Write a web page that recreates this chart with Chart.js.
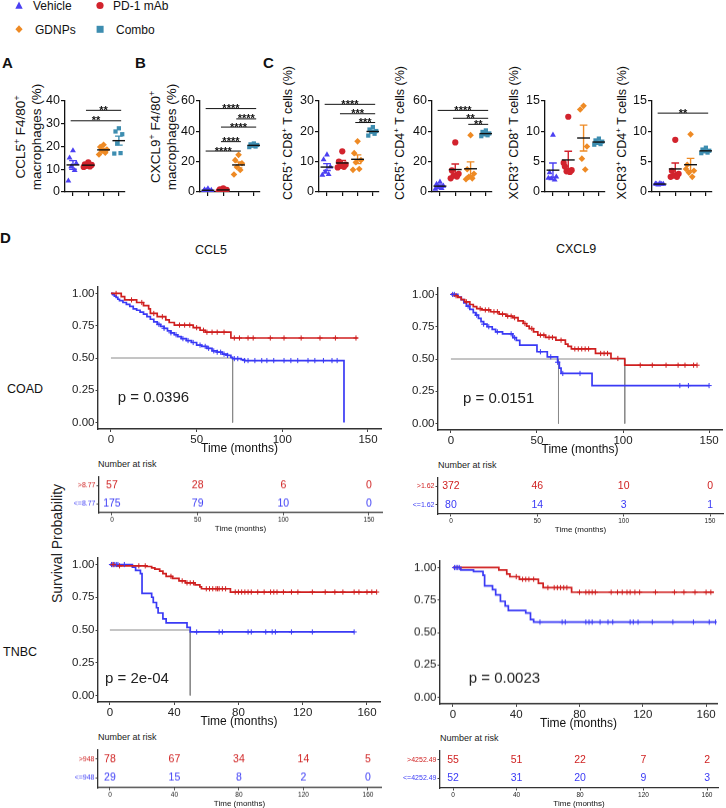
<!DOCTYPE html>
<html><head><meta charset="utf-8">
<script src="https://cdn.jsdelivr.net/npm/chart.js@4.4.1/dist/chart.umd.min.js"></script>
<style>
html,body{margin:0;padding:0;background:#fff}
body{width:726px;height:808px;position:relative;overflow:hidden;font-family:'Liberation Sans',Arial,sans-serif;color:#111}
canvas{position:absolute}
.t{position:absolute;white-space:nowrap}
.n{font-family:'Liberation Sans Narrow','Arial Narrow','Liberation Sans',sans-serif}
.r{position:absolute;white-space:nowrap;transform:rotate(-90deg);transform-origin:50% 50%}
.clip{position:absolute;overflow:hidden}
sup{font-size:65%;line-height:0}
</style></head><body>

<!-- legend -->
<svg style="position:absolute;left:0;top:0" width="200" height="40">
 <polygon points="19,1.5 15.3,8.8 22.7,8.8" fill="#4b40f2"/>
 <circle cx="100" cy="5.5" r="3.6" fill="#d2232d"/>
 <polygon points="19,25.3 22.6,29.2 19,33.1 15.4,29.2" fill="#ee8a24"/>
 <rect x="96.6" y="25.8" width="7" height="7" fill="#3d8db0"/>
</svg>
<div class="t" style="left:33px;top:-1px;font-size:12px;line-height:14px">Vehicle</div>
<div class="t" style="left:113px;top:-1.5px;font-size:12px;line-height:14px">PD-1 mAb</div>
<div class="t" style="left:35px;top:22.5px;font-size:12px;line-height:14px">GDNPs</div>
<div class="t" style="left:116px;top:22.5px;font-size:12px;line-height:14px">Combo</div>

<!-- panel letters -->
<div class="t" style="left:2px;top:54px;font-size:15px;font-weight:bold;line-height:18px">A</div>
<div class="t" style="left:135px;top:54px;font-size:15px;font-weight:bold;line-height:18px">B</div>
<div class="t" style="left:263px;top:54px;font-size:15px;font-weight:bold;line-height:18px">C</div>
<div class="t" style="left:0px;top:229px;font-size:15px;font-weight:bold;line-height:18px">D</div>

<!-- y titles A/B (two lines, centred) -->
<div class="r" style="left:-46px;top:121px;width:150px;height:32px;font-size:13.5px;line-height:16px;text-align:center">CCL5<sup>+</sup> F4/80<sup>+</sup><br>macrophages (%)</div>
<div class="r" style="left:89px;top:121px;width:150px;height:32px;font-size:13.5px;line-height:16px;text-align:center">CXCL9<sup>+</sup> F4/80<sup>+</sup><br>macrophages (%)</div>
<!-- y titles C (end anchored at top, clipped at bottom) -->
<div class="clip" style="left:270px;top:55px;width:450px;height:145px">
 <div class="r" style="left:-82px;top:103px;width:200px;height:16px;font-size:12.5px;line-height:16px;text-align:right">CCR5<sup>+</sup> CD8<sup>+</sup> T cells (%)</div>
 <div class="r" style="left:30px;top:103px;width:200px;height:16px;font-size:12.5px;line-height:16px;text-align:right">CCR5<sup>+</sup> CD4<sup>+</sup> T cells (%)</div>
 <div class="r" style="left:144px;top:103px;width:200px;height:16px;font-size:12.5px;line-height:16px;text-align:right">CXCR3<sup>+</sup> CD8<sup>+</sup> T cells (%)</div>
 <div class="r" style="left:252px;top:103px;width:200px;height:16px;font-size:12.5px;line-height:16px;text-align:right">CXCR3<sup>+</sup> CD4<sup>+</sup> T cells (%)</div>
</div>

<!-- panel D headings -->
<div class="t" style="left:195px;top:242px;font-size:12.5px;line-height:16px">CCL5</div>
<div class="t" style="left:556px;top:241px;font-size:12.5px;line-height:16px">CXCL9</div>
<div class="t" style="left:7px;top:381px;font-size:12.5px;line-height:16px">COAD</div>
<div class="t" style="left:3px;top:644px;font-size:12.5px;line-height:16px">TNBC</div>
<div class="r n" style="left:-43px;top:535px;width:200px;height:17px;font-size:14px;line-height:17px;text-align:center;color:#222">Survival Probability</div>
<div class="t n" style="left:98px;top:458px;font-size:9px;line-height:12px;color:#222">Number at risk</div>
<div class="t n" style="left:438px;top:459px;font-size:9px;line-height:12px;color:#222">Number at risk</div>
<div class="t n" style="left:98px;top:731px;font-size:9px;line-height:12px;color:#222">Number at risk</div>
<div class="t n" style="left:440px;top:732px;font-size:9px;line-height:12px;color:#222">Number at risk</div>

<script>
// ===================== DATA =====================
const groupNames = ['Vehicle', 'PD-1 mAb', 'GDNPs', 'Combo'];

// A: CCL5+ F4/80+ macrophages (%)  [Vehicle, PD-1 mAb, GDNPs, Combo]
const ccl5Mac = [[18.2, 15.0, 12.6, 11.2, 9.5, 4.9], [13.0, 12.2, 11.9, 11.5, 11.2, 11.0], [20.8, 19.8, 18.7, 18.0, 17.3, 16.5], [28.0, 26.6, 25.4, 21.4, 17.1, 16.9]];
const ccl5MacSig = [[1, 4, 31.3, '**'], [2, 4, 35.9, '**']];
// B: CXCL9+ F4/80+ macrophages (%)
const cxcl9Mac = [[2.2, 1.6, 1.2, 0.9, 0.6, 0.4], [2.4, 1.8, 1.4, 1.1, 0.9, 0.6], [24.5, 21.0, 19.0, 16.5, 14.5, 11.5], [32.0, 31.4, 31.0, 30.5, 30.0, 29.6]];
const cxcl9MacSig = [[1, 4, 55.0, '****'], [3, 4, 48.2, '****'], [2, 4, 42.8, '****'], [2, 3, 33.2, '****'], [1, 3, 27.0, '****']];
// C: CCR5+ CD8+ T cells (%)
const ccr5Cd8 = [[12.3, 10.7, 8.3, 6.6, 5.8, 5.6], [13.4, 10.0, 9.0, 8.6, 8.3, 8.1], [16.7, 12.8, 10.5, 9.8, 7.6, 7.3], [21.4, 20.6, 20.1, 19.8, 19.2, 18.6]];
const ccr5Cd8Sig = [[1, 4, 28.9, '****'], [2, 4, 25.8, '***'], [3, 4, 22.9, '***']];
// C: CCR5+ CD4+ T cells (%)
const ccr5Cd4 = [[6.6, 5.2, 4.0, 3.0, 2.4, 2.0], [32.7, 14.2, 12.0, 10.8, 10.2, 9.0], [37.5, 15.0, 12.0, 10.0, 9.0, 8.4], [40.6, 39.6, 38.6, 38.0, 37.4, 36.8]];
const ccr5Cd4Sig = [[1, 4, 53.8, '****'], [2, 4, 48.6, '**'], [3, 4, 44.6, '**']];
// C: CXCR3+ CD8+ T cells (%)
const cxcr3Cd8 = [[9.4, 3.2, 2.5, 2.2, 2.0, 2.3], [12.4, 4.2, 3.6, 3.4, 3.3, 4.8], [14.2, 13.6, 7.5, 5.5, 3.7], [8.8, 8.5, 8.3, 8.1, 7.9, 7.8]];
const cxcr3Cd8Sig = [];
// C: CXCR3+ CD4+ T cells (%)
const cxcr3Cd4 = [[1.4, 1.3, 1.3, 1.2, 1.3, 1.35], [8.6, 3.5, 3.0, 2.7, 2.5, 2.5], [9.5, 4.5, 3.5, 3.2, 2.5, 3.8], [7.3, 7.0, 6.8, 6.7, 6.5, 6.4]];
const cxcr3Cd4Sig = [[1, 4, 13.0, '**']];

// D: Kaplan-Meier step curves [time (months), survival]
const coadCcl5High = [[0,1],[6,0.975],[8,0.95],[15,0.93],[19,0.905],[22,0.88],[23,0.845],[27,0.82],[32,0.795],[34,0.775],[37,0.755],[48,0.735],[52,0.715],[55,0.70],[70,0.655],[144,0.655]];
const coadCcl5HighCens = [3,12,18,25,30,40,43,46,50,54,56,59,62,66,72,75,80,83,93,101,111,122,131,143];
const coadCcl5Low = [[0,1],[1,0.99],[2,0.98],[3,0.97],[4,0.955],[5,0.945],[7,0.93],[9,0.915],[11,0.9],[13,0.88],[15,0.87],[17,0.855],[19,0.84],[21,0.82],[23,0.80],[25,0.78],[27,0.76],[29,0.745],[31,0.73],[33,0.71],[35,0.695],[37,0.68],[39,0.665],[41,0.65],[44,0.635],[47,0.62],[50,0.60],[53,0.59],[56,0.575],[59,0.555],[62,0.545],[65,0.53],[68,0.52],[70,0.505],[71,0.495],[76,0.487],[78,0.48],[136,0]];
const coadCcl5LowCens = [28,31,35,38,42,45,48,52,55,57,60,62,64,66,68,72,74,78,80,84,88,91,95,101,105,109,115,119,124,129,132];
const coadCcl5Median = [71];
const coadCcl5Risk = { times: [0, 50, 100, 150], high: [57, 28, 6, 0], low: [175, 79, 10, 0], labels: ['>8.77', '<=8.77'] };

const coadCxcl9High = [[0,1],[2,0.99],[4,0.977],[6,0.96],[8,0.943],[11,0.922],[13,0.905],[15,0.89],[18,0.88],[23,0.866],[28,0.848],[32,0.832],[36,0.82],[39,0.796],[42,0.775],[44,0.755],[45.5,0.736],[48,0.71],[50.5,0.685],[55,0.667],[61,0.646],[66.5,0.615],[68,0.598],[70,0.578],[84,0.543],[93,0.504],[101,0.452],[143,0.452]];
const coadCxcl9HighCens = [3,9,17,20,22,25,27,30,33,35,37,43,47,52,54,57,59,64,72,74,76,78,80,87,89,91,97,110,117,125,132,136,141,143];
const coadCxcl9Low = [[0,1],[4,0.98],[6,0.96],[7.5,0.935],[9,0.91],[11,0.885],[13,0.86],[14.5,0.84],[16,0.815],[17.5,0.79],[19,0.77],[21,0.75],[24,0.73],[26,0.71],[30,0.695],[36,0.665],[38,0.645],[40,0.607],[50,0.556],[56,0.517],[62,0.475],[63,0.43],[64,0.388],[82,0.294],[150,0.294]];
const coadCxcl9LowCens = [1,2,10,15,19,22,27,35,37,52,58,62,65,75,133,138,150];
const coadCxcl9Median = [62.5, 101];
const coadCxcl9Risk = { times: [0, 50, 100, 150], high: [372, 46, 10, 0], low: [80, 14, 3, 1], labels: ['>1.62', '<=1.62'] };

const tnbcCcl5High = [[0,1],[4,0.99],[23,0.985],[26,0.975],[28,0.965],[31,0.95],[33,0.93],[35,0.91],[39,0.895],[43,0.875],[47,0.86],[53,0.845],[56,0.83],[57,0.815],[75,0.79],[166,0.79]];
const tnbcCcl5HighCens = [2,6,18,22,38,45,48,50,52,60,62,64,66,67,68,70,72,78,80,82,84,86,88,92,96,100,102,104,108,113,117,126,134,140,145,152,155,160,163,166];
const tnbcCcl5Low = [[0,1],[14,0.98],[16,0.955],[19,0.93],[20,0.78],[26,0.75],[27,0.71],[29,0.67],[30,0.63],[33,0.585],[35,0.555],[48,0.52],[50,0.485],[152,0.485]];
const tnbcCcl5LowCens = [1,2,3,4,5,9,54,68,70,86,88,97,101,103,113,126,152];
const tnbcCcl5Median = [50];
const tnbcCcl5Risk = { times: [0, 40, 80, 120, 160], high: [78, 67, 34, 14, 5], low: [29, 15, 8, 2, 0], labels: ['>948', '<=948'] };

const tnbcCxcl9High = [[0,1],[29,0.982],[34,0.95],[36,0.93],[42,0.91],[54,0.878],[57,0.845],[75,0.81],[165,0.81]];
const tnbcCxcl9HighCens = [40,44,46,48,51,60,64,66,68,70,72,80,84,86,88,90,100,104,107,110,112,115,118,128,140,146,153,160,163];
const tnbcCxcl9Low = [[0,1],[5,0.982],[13,0.97],[19,0.94],[20,0.86],[25,0.83],[27,0.79],[30,0.74],[33,0.705],[35,0.67],[46,0.65],[49,0.60],[51,0.58],[166,0.58]];
const tnbcCxcl9LowCens = [1,2,3,4,55,69,71,84,86,88,93,98,101,112,114,117,126,139,152,162,166];
const tnbcCxcl9Median = [];
const tnbcCxcl9Risk = { times: [0, 40, 80, 120, 160], high: [55, 51, 22, 7, 2], low: [52, 31, 20, 9, 3], labels: ['>4252.49', '<=4252.49'] };

const pValues = ['p = 0.0396', 'p = 0.0151', 'p = 2e-04', 'p = 0.0023'];

// ===================== STYLE =====================
Chart.defaults.animation = false;
Chart.defaults.responsive = false;
Chart.defaults.maintainAspectRatio = false;
Chart.defaults.plugins.legend.display = false;
Chart.defaults.plugins.tooltip.enabled = false;
Chart.defaults.font.family = "'Liberation Sans', Arial, sans-serif";
const NARROW = "'Liberation Sans Narrow','Arial Narrow','Liberation Sans',sans-serif";
const GCOL = ['#4b40f2', '#d2232d', '#ee8a24', '#3d8db0'];
const GSTY = ['triangle', 'circle', 'rectRot', 'rect'];
const GRAD = [3.4, 3.1, 3.3, 3.0];
const JIT = [0, -0.22, 0.22, -0.11, 0.11, -0.3, 0.3];
const KRED = '#cf1f1f', KBLUE = '#3a3af5';

function mkCanvas(r) {
  const c = document.createElement('canvas');
  c.width = r.width; c.height = r.height;
  c.style.left = r.left + 'px'; c.style.top = r.top + 'px';
  c.style.width = r.width + 'px'; c.style.height = r.height + 'px';
  document.body.appendChild(c);
  return c;
}
function textPlugin(items) {
  return {
    id: 'labels',
    afterDatasetsDraw(chart) {
      const ctx = chart.ctx, xs = chart.scales.x, ys = chart.scales.y;
      ctx.save();
      items.forEach(it => {
        ctx.font = it.font; ctx.fillStyle = it.color || '#111';
        ctx.textAlign = it.align || 'center'; ctx.textBaseline = it.base || 'alphabetic';
        ctx.fillText(it.text, xs.getPixelForValue(it.x) + (it.dx || 0), ys.getPixelForValue(it.y) + (it.dy || 0));
      });
      ctx.restore();
    }
  };
}
function pin(rect, area) {
  return {
    padding: { top: area.top - rect.top, right: rect.left + rect.width - area.right, left: 0, bottom: 0 },
    yW: area.left - rect.left,
    xH: rect.top + rect.height - area.bottom
  };
}
function ticksOf(list) { return s => { s.ticks = list.map(v => ({ value: v })); }; }

// ===================== SCATTER PANELS =====================
function scatterPanel(vals, sig, yMax, yStep, axisX) {
  const area = { left: axisX, right: axisX + 60, top: 101, bottom: 192 };
  const rect = { left: axisX - 28, top: 88, width: 28 + 60 + 5, height: 114 };
  const p = pin(rect, area);
  const datasets = [];
  vals.forEach((arr, g) => {
    const x0 = g + 1, n = arr.length;
    const mean = arr.reduce((a, b) => a + b, 0) / n;
    const sd = Math.sqrt(arr.reduce((a, b) => a + (b - mean) ** 2, 0) / (n - 1));
    const sem = sd / Math.sqrt(n);
    datasets.push({ type: 'line', data: [{ x: x0 - 0.42, y: mean }, { x: x0 + 0.42, y: mean }], borderColor: '#111', borderWidth: 1.4, pointRadius: 0, order: 0 });
    datasets.push({ type: 'line', spanGaps: false, data: [
      { x: x0, y: mean - sem }, { x: x0, y: mean + sem }, { x: x0, y: null },
      { x: x0 - 0.25, y: mean + sem }, { x: x0 + 0.25, y: mean + sem }, { x: x0, y: null },
      { x: x0 - 0.25, y: mean - sem }, { x: x0 + 0.25, y: mean - sem }],
      borderColor: GCOL[g], borderWidth: 1.4, pointRadius: 0, order: 1 });
    datasets.push({ type: 'scatter', data: arr.map((v, i) => ({ x: x0 + JIT[i % JIT.length], y: v })),
      pointStyle: GSTY[g], pointRadius: GRAD[g], backgroundColor: GCOL[g], borderColor: GCOL[g], borderWidth: 0, order: 2 });
  });
  const items = [];
  sig.forEach(([g1, g2, y, lab]) => {
    datasets.push({ type: 'line', data: [{ x: g1 - 0.15, y }, { x: g2 + 0.15, y }], borderColor: '#111', borderWidth: 1, pointRadius: 0, order: 0 });
    items.push({ x: (g1 + g2) / 2, y, text: lab, font: "bold 11px 'Liberation Sans', Arial", dy: 3.5 });
  });
  const yt = []; for (let v = 0; v <= yMax; v += yStep) yt.push(v);
  new Chart(mkCanvas(rect), {
    type: 'scatter',
    data: { datasets },
    options: {
      layout: { padding: p.padding },
      scales: {
        x: { type: 'linear', min: 0.48, max: 4.4, afterBuildTicks: ticksOf([1, 2, 3, 4]),
          ticks: { callback: () => '', font: { size: 1 }, padding: 0 },
          grid: { drawOnChartArea: false, drawTicks: true, tickLength: 4, color: '#111', lineWidth: 1.2 },
          border: { display: true, color: '#111', width: 1.3 },
          afterFit: s => { s.height = p.xH; } },
        y: { type: 'linear', min: 0, max: yMax, afterBuildTicks: ticksOf(yt),
          ticks: { font: { size: 12.5 }, color: '#111', padding: 1 },
          grid: { drawOnChartArea: false, drawTicks: true, tickLength: 4, color: '#111', lineWidth: 1.2 },
          border: { display: true, color: '#111', width: 1.3 },
          afterFit: s => { s.width = p.yW; } }
      }
    },
    plugins: [textPlugin(items)]
  });
}

scatterPanel(ccl5Mac, ccl5MacSig, 40, 10, 65);
scatterPanel(cxcl9Mac, cxcl9MacSig, 60, 20, 200);
scatterPanel(ccr5Cd8, ccr5Cd8Sig, 30, 10, 319);
scatterPanel(ccr5Cd4, ccr5Cd4Sig, 60, 20, 432);
scatterPanel(cxcr3Cd8, cxcr3Cd8Sig, 15, 5, 545);
scatterPanel(cxcr3Cd4, cxcr3Cd4Sig, 15, 5, 652);

// ===================== KM PANELS =====================
function survAt(pts, t) { let s = pts[0][1]; for (const [ti, si] of pts) { if (ti <= t) s = si; else break; } return s; }
function kmPanel(area, xMin, xMax, xTicks, high, highCens, low, lowCens, medians, pText, pX, pY) {
  const rect = { left: area.left - 34, top: area.top - 8 };
  rect.width = area.right - rect.left + 4;
  rect.height = area.bottom + 27 - rect.top;
  const p = pin(rect, area);
  const ds = [];
  const curve = (pts, col) => ({ type: 'line', data: pts.map(([x, y]) => ({ x, y })), stepped: true, borderColor: col, borderWidth: 1.7, pointRadius: 0, order: 1 });
  const cens = (pts, times, col) => ({ type: 'scatter', data: times.map(t => ({ x: t, y: survAt(pts, t) })), pointStyle: 'cross', pointRadius: 2.6, borderColor: col, borderWidth: 1, order: 0 });
  ds.push(cens(high, highCens, KRED), cens(low, lowCens, KBLUE));
  ds.push(curve(high, KRED), curve(low, KBLUE));
  if (medians.length) {
    ds.push({ type: 'line', data: [{ x: 0, y: 0.5 }, { x: Math.max(...medians), y: 0.5 }], borderColor: '#8a8a8a', borderWidth: 1, pointRadius: 0, order: 2 });
    medians.forEach(m => ds.push({ type: 'line', data: [{ x: m, y: 0.5 }, { x: m, y: 0 }], borderColor: '#8a8a8a', borderWidth: 1, pointRadius: 0, order: 2 }));
  }
  new Chart(mkCanvas(rect), {
    type: 'scatter',
    data: { datasets: ds },
    options: {
      layout: { padding: p.padding },
      scales: {
        x: { type: 'linear', min: xMin, max: xMax, afterBuildTicks: ticksOf(xTicks),
          ticks: { font: { family: NARROW, size: 11.5 }, color: '#222', padding: 1, maxRotation: 0 },
          grid: { drawOnChartArea: false, tickLength: 3, color: '#444', lineWidth: 1 },
          border: { display: true, color: '#333', width: 1.4 },
          title: { display: true, text: 'Time (months)', font: { family: NARROW, size: 12 }, color: '#111', padding: { top: 0, bottom: 0 } },
          afterFit: s => { s.height = p.xH; } },
        y: { type: 'linear', min: -0.05, max: 1.05, afterBuildTicks: ticksOf([0, 0.25, 0.5, 0.75, 1]),
          ticks: { font: { family: NARROW, size: 11.5 }, color: '#222', padding: 1, callback: v => Number(v).toFixed(2) },
          grid: { drawOnChartArea: false, tickLength: 2.5, color: '#444', lineWidth: 1 },
          border: { display: true, color: '#333', width: 1.4 },
          afterFit: s => { s.width = p.yW; } }
      }
    },
    plugins: [textPlugin([{ x: pX, y: pY, text: pText, font: `15px ${NARROW}`, color: '#222', align: 'left', base: 'middle' }])]
  });
}
function riskTable(area, xMin, xMax, xTicks, risk) {
  const rect = { left: area.left - 40, top: area.top - 3 };
  rect.width = area.right - rect.left + 4;
  rect.height = area.bottom + 21 - rect.top;
  const p = pin(rect, area);
  const items = [];
  risk.times.forEach((t, i) => {
    items.push({ x: t, y: 0, text: String(risk.high[i]), font: `10.5px ${NARROW}`, color: KRED, base: 'middle' });
    items.push({ x: t, y: 1, text: String(risk.low[i]), font: `10.5px ${NARROW}`, color: KBLUE, base: 'middle' });
  });
  new Chart(mkCanvas(rect), {
    type: 'scatter',
    data: { datasets: [] },
    options: {
      layout: { padding: p.padding },
      scales: {
        x: { type: 'linear', min: xMin, max: xMax, afterBuildTicks: ticksOf(xTicks),
          ticks: { font: { family: NARROW, size: 6.5 }, color: '#222', padding: 1, maxRotation: 0 },
          grid: { drawOnChartArea: false, tickLength: 2.5, color: '#444', lineWidth: 1 },
          border: { display: true, color: '#333', width: 1.3 },
          title: { display: true, text: 'Time (months)', font: { family: NARROW, size: 8 }, color: '#111', padding: { top: 0, bottom: 0 } },
          afterFit: s => { s.height = p.xH; } },
        y: { type: 'category', labels: risk.labels, offset: true,
          ticks: { font: { family: NARROW, size: 7 }, color: c => (c.index === 0 ? KRED : KBLUE), padding: 1 },
          grid: { drawOnChartArea: false, tickLength: 2.5, color: '#444', lineWidth: 1, offset: false },
          border: { display: true, color: '#333', width: 1.3 },
          afterFit: s => { s.width = p.yW; } }
      }
    },
    plugins: [textPlugin(items)]
  });
}

kmPanel({ left: 98, right: 382, top: 286.5, bottom: 428.5 }, -7.56, 157.6, [0, 50, 100, 150], coadCcl5High, coadCcl5HighCens, coadCcl5Low, coadCcl5LowCens, coadCcl5Median, pValues[0], 4, 0.194);
kmPanel({ left: 438, right: 723, top: 287.5, bottom: 429.5 }, -7.5, 157.5, [0, 50, 100, 150], coadCxcl9High, coadCxcl9HighCens, coadCxcl9Low, coadCxcl9LowCens, coadCxcl9Median, pValues[1], 7, 0.194);
kmPanel({ left: 98, right: 381, top: 557.5, bottom: 701.5 }, -7.4, 168.1, [0, 40, 80, 120, 160], tnbcCcl5High, tnbcCcl5HighCens, tnbcCcl5Low, tnbcCcl5LowCens, tnbcCcl5Median, pValues[2], -3, 0.13);
kmPanel({ left: 440, right: 718, top: 561, bottom: 703.5 }, -8.2, 166.9, [0, 40, 80, 120, 160], tnbcCxcl9High, tnbcCxcl9HighCens, tnbcCxcl9Low, tnbcCxcl9LowCens, tnbcCxcl9Median, pValues[3], 10, 0.147);

riskTable({ left: 99, right: 382, top: 474, bottom: 512.5 }, -7.56, 157.6, [0, 50, 100, 150], coadCcl5Risk);
riskTable({ left: 438, right: 723, top: 474.5, bottom: 513.5 }, -7.5, 157.5, [0, 50, 100, 150], coadCxcl9Risk);
riskTable({ left: 98, right: 381, top: 747, bottom: 787.5 }, -7.4, 168.1, [0, 40, 80, 120, 160], tnbcCcl5Risk);
riskTable({ left: 440, right: 718, top: 747.5, bottom: 788 }, -8.2, 166.9, [0, 40, 80, 120, 160], tnbcCxcl9Risk);
</script>
</body></html>
